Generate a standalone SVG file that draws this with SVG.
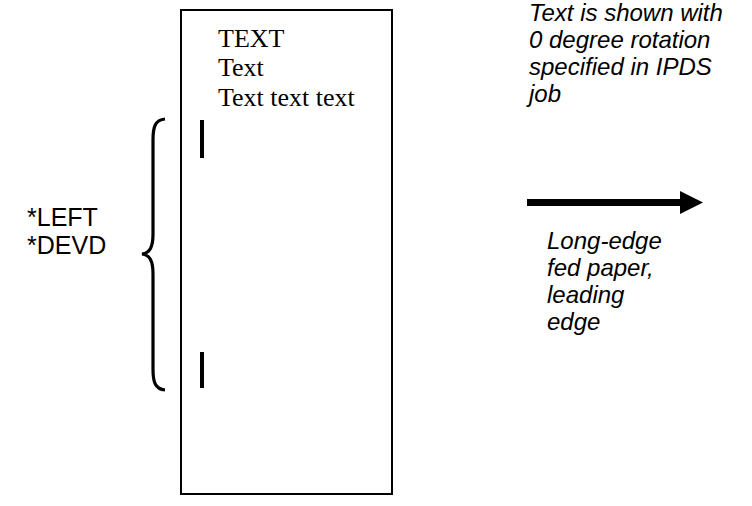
<svg xmlns="http://www.w3.org/2000/svg" width="752" height="506" viewBox="0 0 752 506">
<style>
.serif{font-family:"Liberation Serif","Times New Roman",serif;font-size:26px;fill:#000}
.sans{font-family:"Liberation Sans",Arial,sans-serif;font-size:25px;fill:#000}
.ital{font-family:"Liberation Sans",Arial,sans-serif;font-size:24px;font-style:italic;fill:#000}
</style>
<rect width="752" height="506" fill="#fff"/>
<g id="page">
<rect x="181" y="10" width="211" height="484" fill="none" stroke="#000" stroke-width="2"/>
<text class="serif" x="218" y="47">TEXT</text>
<text class="serif" x="218" y="76">Text</text>
<text class="serif" x="218" y="106">Text text text</text>
<rect x="200" y="120" width="4" height="38" fill="#000"/>
<rect x="200" y="352" width="4" height="36" fill="#000"/>
</g>
<g id="brace">
<path d="M165,119 C155,120 153,127 153,140 L153,234 C153,247 150,253 142,254 C150,255 153,261 153,274 L153,369 C153,382 155,389 165,390" fill="none" stroke="#000" stroke-width="3.2"/>
<text class="sans" x="27" y="226">*LEFT</text>
<text class="sans" x="27" y="254">*DEVD</text>
</g>
<g id="note-top">
<text class="ital" x="529" y="21">Text is shown with</text>
<text class="ital" x="529" y="48">0 degree rotation</text>
<text class="ital" x="529" y="75">specified in IPDS</text>
<text class="ital" x="529" y="102">job</text>
</g>
<g id="connectors">
<path d="M527,199 L680,199 L680,191 L703,202.5 L680,214 L680,206 L527,206 Z" fill="#000"/>
</g>
<g id="note-bottom">
<text class="ital" x="547" y="249">Long-edge</text>
<text class="ital" x="547" y="276">fed paper,</text>
<text class="ital" x="547" y="303">leading</text>
<text class="ital" x="547" y="330">edge</text>
</g>
</svg>
